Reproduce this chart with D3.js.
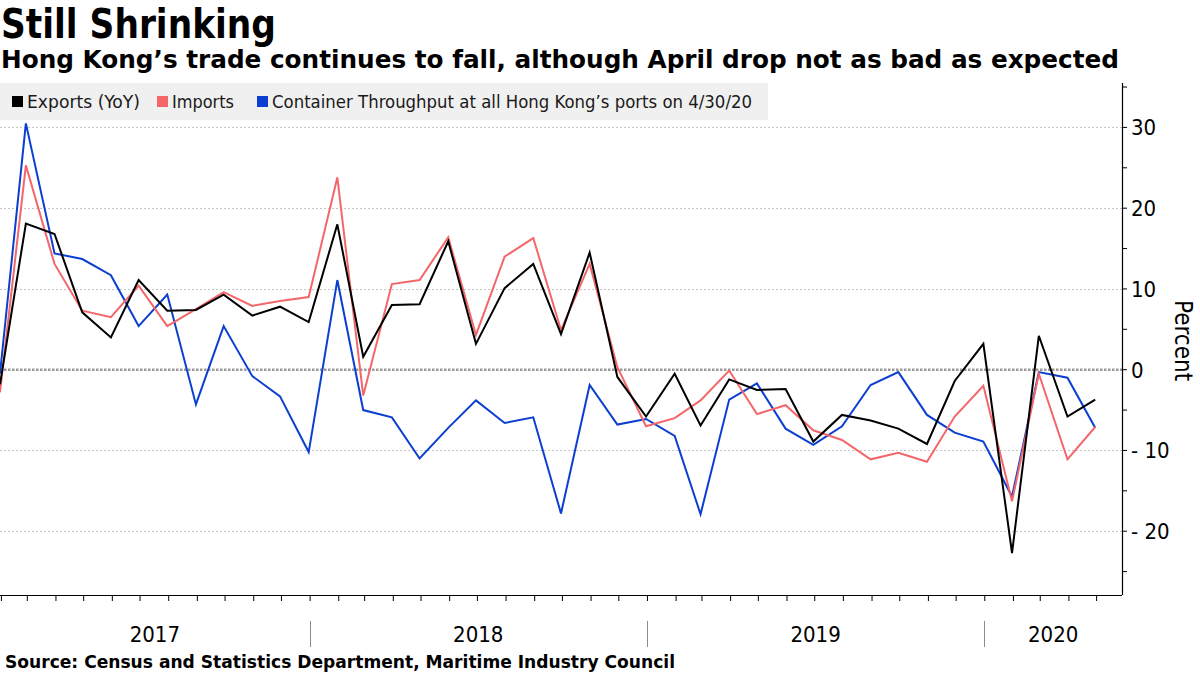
<!DOCTYPE html>
<html>
<head>
<meta charset="utf-8">
<script src="https://cdn.jsdelivr.net/npm/d3@7"></script>
<style>
  html, body { margin: 0; padding: 0; background: #fff; }
  svg { display: block; }
  .cond { font-family: "DejaVu Sans Condensed", "DejaVu Sans", sans-serif; font-stretch: condensed; }
</style>
</head>
<body>
<svg id="chart" width="1200" height="675"></svg>
<script>
// ---------------- DATA ----------------
const months = [
  "2017-01","2017-02","2017-03","2017-04","2017-05","2017-06","2017-07","2017-08","2017-09","2017-10","2017-11","2017-12",
  "2018-01","2018-02","2018-03","2018-04","2018-05","2018-06","2018-07","2018-08","2018-09","2018-10","2018-11","2018-12",
  "2019-01","2019-02","2019-03","2019-04","2019-05","2019-06","2019-07","2019-08","2019-09","2019-10","2019-11","2019-12",
  "2020-01","2020-02","2020-03","2020-04"
];
const exportsYoY = [-1.8, 18.1, 16.8, 7.1, 4.0, 11.1, 7.3, 7.4, 9.3, 6.7, 7.8, 5.9,
  18.0, 1.6, 8.0, 8.1, 15.9, 3.2, 10.1, 13.1, 4.4, 14.5, -0.9, -5.8,
  -0.5, -6.9, -1.2, -2.5, -2.4, -8.9, -5.6, -6.3, -7.3, -9.2, -1.4, 3.2,
  -22.7, 4.2, -5.8, -3.7];
const importsYoY = [-2.8, 25.3, 13.1, 7.3, 6.5, 10.4, 5.4, 7.5, 9.6, 7.9, 8.5, 9.0,
  23.8, -3.2, 10.6, 11.1, 16.4, 4.3, 14.0, 16.3, 4.9, 13.1, 0.3, -7.0,
  -6.0, -3.8, -0.1, -5.5, -4.4, -7.5, -8.7, -11.1, -10.3, -11.4, -5.8, -2.0,
  -16.3, -0.5, -11.1, -7.1];
const containerYoY = [-0.5, 30.5, 14.4, 13.7, 11.7, 5.4, 9.3, -4.3, 5.4, -0.8, -3.3, -10.2,
  11.1, -5.0, -5.9, -11.0, -7.2, -3.8, -6.6, -5.9, -17.8, -1.9, -6.8, -6.1,
  -8.2, -17.9, -3.7, -1.7, -7.3, -9.3, -7.0, -1.9, -0.3, -5.6, -7.8, -8.9,
  -15.7, -0.3, -1.0, -7.2];
const seriesNames = ["Exports (YoY)", "Imports", "Container Throughput at all Hong Kong\u2019s ports on 4/30/20"];
const seriesColors = ["#000000", "#f3676b", "#0b3fd0"];
const yTickValues = [-20, -10, 0, 10, 20, 30];
const yMinorTickValues = [-25, -20, -15, -10, -5, 0, 5, 10, 15, 20, 25, 30, 35];
const yearLabels = ["2017", "2018", "2019", "2020"];
const titleText = "Still Shrinking";
const subtitleText = "Hong Kong\u2019s trade continues to fall, although April drop not as bad as expected";
const sourceText = "Source: Census and Statistics Department, Maritime Industry Council";
const yAxisTitle = "Percent";

// ---------------- LAYOUT ----------------
const svg = d3.select("#chart");
const plot = { left: 0, right: 1122, top: 83, bottom: 595 };

// data plotted at month end
const parseMonth = d3.timeParse("%Y-%m");
const monthEnd = s => { const d = parseMonth(s); return new Date(d.getFullYear(), d.getMonth() + 1, 0); };
const dates = months.map(monthEnd);

const x = d3.scaleTime()
  .domain([new Date(2017, 0, 31), new Date(2020, 4, 29)])
  .range([plot.left, plot.right]);
const y = d3.scaleLinear()
  .domain([-27.9, 35.5])
  .range([plot.bottom, plot.top]);

// ---------------- TITLES ----------------
function fitWidth(sel, w) {
  sel.attr("textLength", w).attr("lengthAdjust", "spacingAndGlyphs");
}
svg.append("text").attr("class", "cond")
  .attr("x", 1).attr("y", 38)
  .attr("font-size", 40).attr("font-weight", "bold").attr("fill", "#000")
  .text(titleText).call(fitWidth, 275);

svg.append("text").attr("class", "cond")
  .attr("x", 1).attr("y", 68)
  .attr("font-size", 25).attr("font-weight", "bold").attr("fill", "#000")
  .text(subtitleText).call(fitWidth, 1118);

// ---------------- GRID ----------------
const grid = svg.append("g");
grid.selectAll("line.grid")
  .data(yTickValues.filter(v => v !== 0))
  .join("line")
  .attr("x1", plot.left).attr("x2", plot.right)
  .attr("y1", d => Math.round(y(d)) + 0.5).attr("y2", d => Math.round(y(d)) + 0.5)
  .attr("stroke", "#c4c4c4").attr("stroke-width", 1).attr("stroke-dasharray", "2,2");

grid.append("line")
  .attr("x1", plot.left).attr("x2", plot.right)
  .attr("y1", y(0)).attr("y2", y(0))
  .attr("stroke", "#9a9a9a").attr("stroke-width", 2.5).attr("stroke-dasharray", "2.5,1.5");

// ---------------- LEGEND ----------------
const legend = svg.append("g");
legend.append("rect").attr("x", 0).attr("y", 83).attr("width", 768).attr("height", 37).attr("fill", "#f0f0f0");
const legendX = [12, 157, 257];
const legendW = [113, 62, 480];
seriesNames.forEach((name, i) => {
  legend.append("rect").attr("x", legendX[i]).attr("y", 96).attr("width", 11).attr("height", 11).attr("fill", seriesColors[i]);
  legend.append("text").attr("class", "cond")
    .attr("x", legendX[i] + 15).attr("y", 108)
    .attr("font-size", 17.5).attr("fill", "#1a1a1a")
    .text(name).call(fitWidth, legendW[i]);
});

// ---------------- LINES ----------------
svg.append("clipPath").attr("id", "clip")
  .append("rect").attr("x", plot.left).attr("y", plot.top).attr("width", plot.right - plot.left).attr("height", plot.bottom - plot.top);

const line = d3.line().x((d, i) => x(dates[i])).y(d => y(d));
const allSeries = [containerYoY, importsYoY, exportsYoY];
const allColors = [seriesColors[2], seriesColors[1], seriesColors[0]];
const lines = svg.append("g").attr("clip-path", "url(#clip)");
allSeries.forEach((s, i) => {
  lines.append("path").datum(s)
    .attr("d", line)
    .attr("fill", "none")
    .attr("stroke", allColors[i])
    .attr("stroke-width", 2)
    .attr("stroke-linejoin", "miter");
});

// ---------------- AXES ----------------
const yAxisG = svg.append("g").attr("transform", `translate(${plot.right},0)`);
yAxisG.append("line").attr("x1", 0.5).attr("x2", 0.5).attr("y1", plot.top).attr("y2", plot.bottom).attr("stroke", "#000").attr("stroke-width", 1.2);
yAxisG.selectAll("line.minor").data(yMinorTickValues).join("line")
  .attr("x1", 0).attr("x2", 5)
  .attr("y1", d => y(d)).attr("y2", d => y(d))
  .attr("stroke", "#000").attr("stroke-width", 1);
yAxisG.selectAll("text.lbl").data(yTickValues).join("text")
  .attr("class", "cond")
  .attr("x", 9).attr("y", d => y(d) + 8)
  .attr("font-size", 22).attr("fill", "#000")
  .text(d => d < 0 ? "- " + Math.abs(d) : String(d));

svg.append("text").attr("class", "cond")
  .attr("transform", `translate(1175,${y(3.6)}) rotate(90)`)
  .attr("text-anchor", "middle")
  .attr("font-size", 24).attr("fill", "#000")
  .text(yAxisTitle);

const xAxis = d3.axisBottom(x)
  .ticks(d3.timeMonth.every(1))
  .tickSize(6)
  .tickFormat("");
const xAxisG = svg.append("g").attr("transform", `translate(0,${plot.bottom})`).call(xAxis);
xAxisG.select(".domain").attr("stroke", "#000").attr("stroke-width", 1.2).attr("d", `M${plot.left},0.5H${plot.right}`);
xAxisG.selectAll(".tick line").attr("stroke", "#000");

const yearStarts = yearLabels.map(yv => new Date(+yv, 0, 1));
const sepG = svg.append("g");
yearStarts.slice(1).forEach(d => {
  sepG.append("line")
    .attr("x1", Math.round(x(d)) + 0.5).attr("x2", Math.round(x(d)) + 0.5)
    .attr("y1", 621).attr("y2", 647)
    .attr("stroke", "#8a8a8a").attr("stroke-width", 1);
});
yearLabels.forEach((lbl, i) => {
  const x0 = Math.max(plot.left, x(yearStarts[i]));
  const x1 = i < yearLabels.length - 1 ? x(yearStarts[i + 1]) : plot.right;
  svg.append("text").attr("class", "cond")
    .attr("x", (x0 + x1) / 2).attr("y", 642)
    .attr("text-anchor", "middle")
    .attr("font-size", 22).attr("fill", "#000")
    .text(lbl);
});

// ---------------- SOURCE ----------------
svg.append("text").attr("class", "cond")
  .attr("x", 5).attr("y", 668)
  .attr("font-size", 17).attr("font-weight", "bold").attr("fill", "#000")
  .text(sourceText).call(fitWidth, 670);
</script>
</body>
</html>
